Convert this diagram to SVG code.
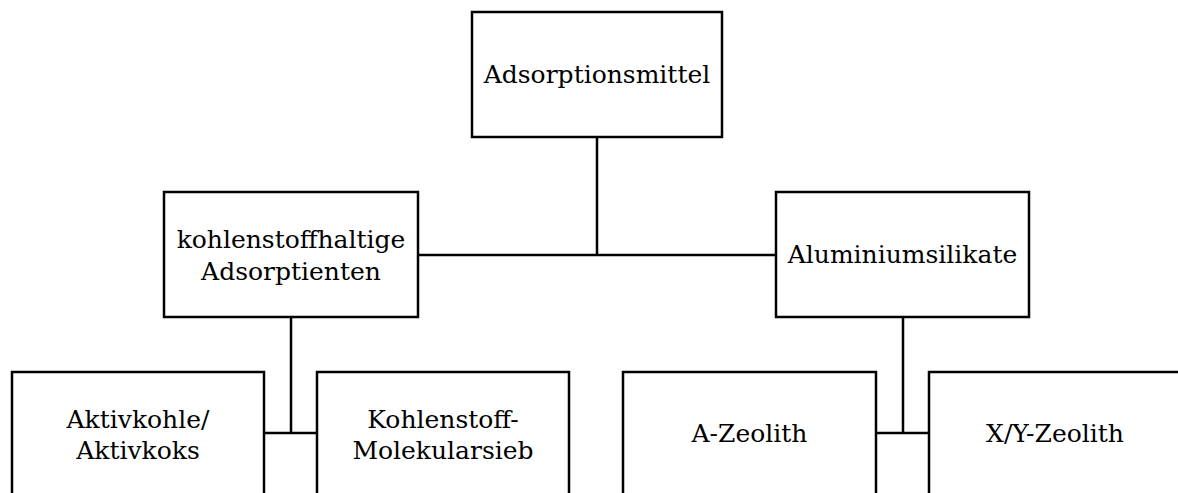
<svg xmlns="http://www.w3.org/2000/svg" width="1178" height="493" viewBox="0 0 1178 493">
<style>
.box{fill:#fff;stroke:#000;stroke-width:2.5}
.ln{fill:none;stroke:#000;stroke-width:2.5}
text{font-family:"DejaVu Serif","Liberation Serif",serif;font-size:25px;fill:#000;text-anchor:middle}
</style>
<rect width="1178" height="493" fill="#fff"/>
<g id="connectors">
<path class="ln" d="M597,137 V255 M418,255 H776"/>
<path class="ln" d="M291,317 V433 M264,433 H317"/>
<path class="ln" d="M903,317 V433 M876,433 H929"/>
</g>
<g id="n-adsorptionsmittel">
<rect class="box" x="472" y="12" width="250" height="125"/>
<text x="597" y="83">Adsorptionsmittel</text>
</g>
<g id="n-kohlenstoffhaltige">
<rect class="box" x="164" y="192" width="254" height="125"/>
<text x="291" y="248">kohlenstoffhaltige</text>
<text x="291" y="280">Adsorptienten</text>
</g>
<g id="n-aluminiumsilikate">
<rect class="box" x="776" y="192" width="253" height="125"/>
<text x="902.5" y="263">Aluminiumsilikate</text>
</g>
<g id="n-aktivkohle">
<rect class="box" x="12" y="372" width="252" height="130"/>
<text x="138" y="428">Aktivkohle/</text>
<text x="138" y="459">Aktivkoks</text>
</g>
<g id="n-molekularsieb">
<rect class="box" x="317" y="372" width="252" height="130"/>
<text x="443" y="428">Kohlenstoff-</text>
<text x="443" y="459">Molekularsieb</text>
</g>
<g id="n-azeolith">
<rect class="box" x="623" y="372" width="253" height="130"/>
<text x="749.5" y="442">A-Zeolith</text>
</g>
<g id="n-xyzeolith">
<rect class="box" x="929" y="372" width="253" height="130"/>
<text x="1055" y="442">X/Y-Zeolith</text>
</g>
</svg>
